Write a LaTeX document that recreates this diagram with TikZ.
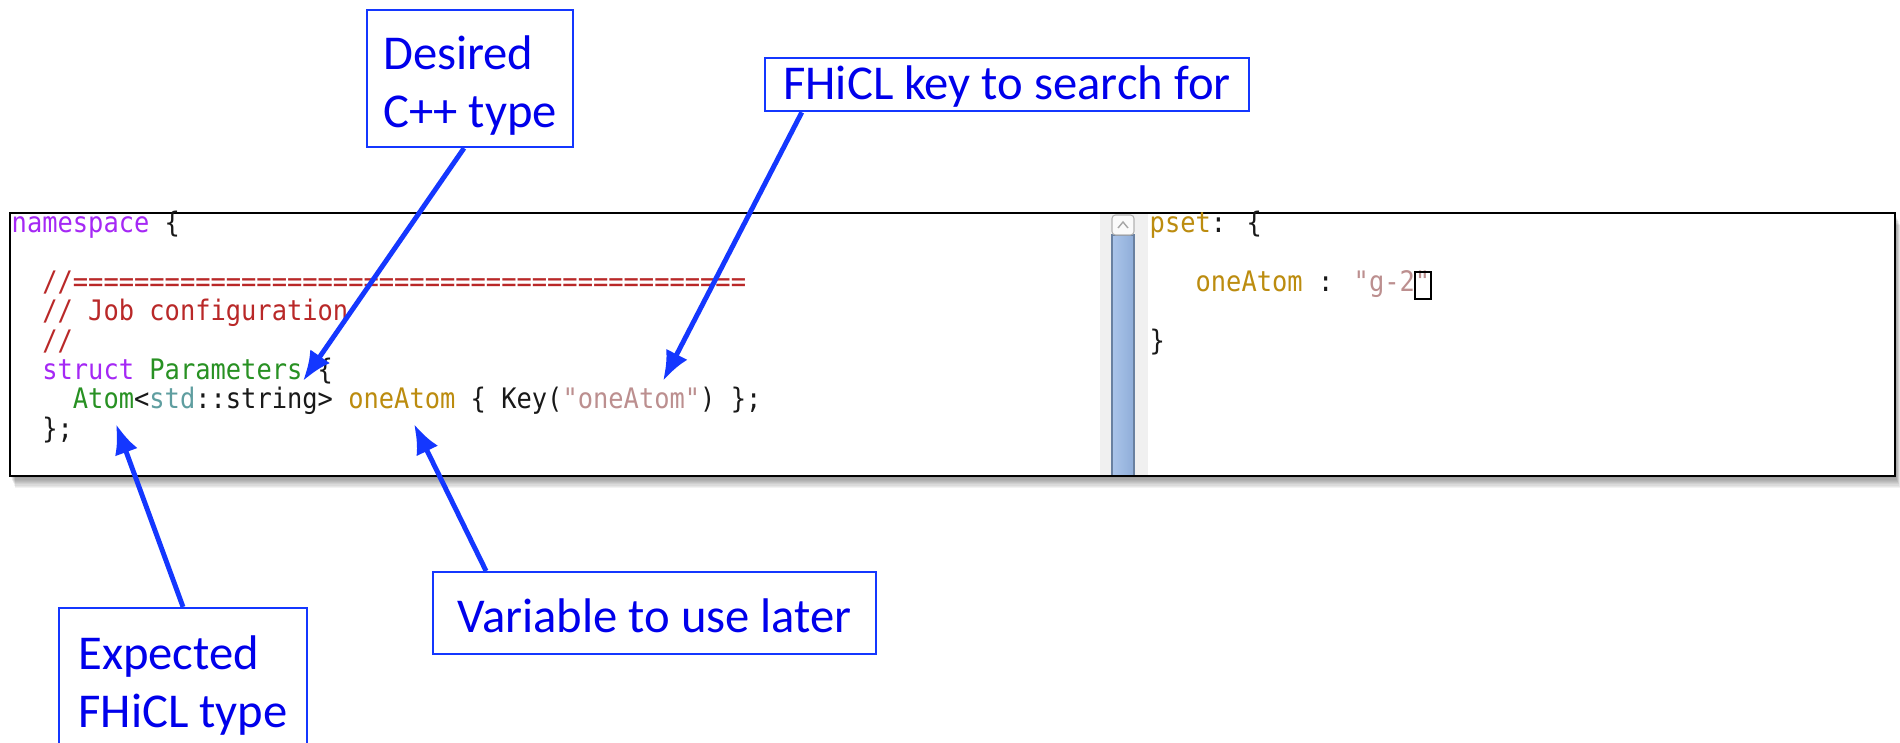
\documentclass[tikz,border=0pt]{standalone}
\usepackage{fontspec}
\setmainfont{Carlito}
\newfontfamily\codefont[FakeStretch=0.9]{DejaVu Sans Mono}
\usepackage{tikz}
\usetikzlibrary{arrows.meta}

\definecolor{kwPurple}{RGB}{165,40,245}
\definecolor{cmtRed}{RGB}{185,40,40}
\definecolor{typeGreen}{RGB}{40,145,35}
\definecolor{stdTeal}{RGB}{95,158,160}
\definecolor{idGold}{RGB}{188,140,15}
\definecolor{strRose}{RGB}{188,143,143}
\definecolor{codeBlack}{RGB}{25,25,25}
\definecolor{callText}{RGB}{0,0,235}
\definecolor{callLine}{RGB}{20,55,255}
\definecolor{barBlue}{RGB}{150,182,228}

\begin{document}
\begin{tikzpicture}[x=0.01cm, y=-0.01cm,
    codeLine/.style={
        anchor=base west,
        inner sep=0pt,
        text=codeBlack,
        font=\codefont\fontsize{8.03}{9.6}\selectfont
    },
    callBox/.style={
        draw=callLine,
        fill=white,
        line width=0.6pt,
        text=callText,
        font=\fontsize{13.83}{16.5}\selectfont,
        align=left,
        inner xsep=4pt,
        inner ysep=1pt
    },
    callArrow/.style={
        callLine,
        line width=1.4pt,
        -{Latex[length=8.5pt,width=6.8pt]}
    }
]
\useasboundingbox (0,0) rectangle (1900,743);
\clip (0,0) rectangle (1900,743);

% shadow of the editor window
\foreach \s in {1,...,10}
    \fill[black, opacity=0.05]
    (10+\s*0.5,213+\s*1.2) rectangle (1895+\s*0.5,476+\s*1.2);

% editor window
\fill[white] (10,213) rectangle (1895,476);
\fill[gray!12] (1100,213) rectangle (1148,476);
\shade[left color=barBlue!80!white, right color=barBlue!95!black]
(1112,235) rectangle (1134,476);
\draw[barBlue!70!black, line width=0.3pt] (1112,235) rectangle (1134,476);
\draw[gray!60, fill=gray!4, rounded corners=1pt, line width=0.3pt]
(1112,215) rectangle (1134,235);
\draw[gray!70, line width=0.4pt] (1118,228) -- (1123,222) -- (1128,228);
\draw[black, line width=0.6pt] (10,213) rectangle (1895,476);

% C++ side
\node[codeLine] (nsLine) at (11,233)
{\textcolor{kwPurple}{namespace} \{};
\node[codeLine] (ruleLine) at (41.6,291.6)
{\textcolor{cmtRed}{//============================================}};
\node[codeLine] (jobLine) at (41.6,320.9)
{\textcolor{cmtRed}{// Job configuration}};
\node[codeLine] (slashLine) at (41.6,350.2)
{\textcolor{cmtRed}{//}};
\node[codeLine] (structLine) at (41.6,379.5)
{\textcolor{kwPurple}{struct} \textcolor{typeGreen}{Parameters} \{};
\node[codeLine] (atomLine) at (72.2,408.8)
{\textcolor{typeGreen}{Atom}<\textcolor{stdTeal}{std}::string> \textcolor{idGold}{oneAtom} \{ Key(\textcolor{strRose}{"oneAtom"}) \};};
\node[codeLine] (endLine) at (41.6,438.1)
{\};};

% FHiCL side
\node[codeLine] (psetLine) at (1149,233)
{\textcolor{idGold}{pset}: \{};
\node[codeLine] (keyLine) at (1194.9,291.6)
{\textcolor{idGold}{oneAtom} : \textcolor{strRose}{"g-2"}};
\node[codeLine] (closeLine) at (1149,350.2)
{\}};
\draw[black, line width=0.6pt]
([xshift=-4.45pt,yshift=-2.1pt]keyLine.base east)
rectangle ([xshift=0.1pt,yshift=5.6pt]keyLine.base east);

% callouts
\node[callBox, minimum width=58.6pt, minimum height=39pt]
(cppType) at (470,78.5) {\rule{0pt}{13.6pt}Desired\\C++ type};
\node[callBox, minimum width=137.7pt, minimum height=15.1pt]
(fclKey) at (1007,84.5) {\rule{0pt}{11pt}FHiCL key to search for};
\node[callBox, minimum width=126pt, minimum height=23.3pt]
(laterVar) at (654.5,613) {\rule{0pt}{11pt}Variable to use later};
\node[callBox, minimum width=70.6pt, minimum height=42.4pt]
(fclType) at (183,682.5) {\rule{0pt}{11.6pt}Expected\\FHiCL type};

\coordinate (tipType) at (303,381);
\coordinate (tipKey) at (663,381);
\coordinate (tipAtom) at (116,424);
\coordinate (tipVar) at (414,424);

\draw[callArrow] ([xshift=-1.7pt]cppType.south) -- (tipType);
\draw[callArrow] ([xshift=10.8pt]fclKey.south west) -- (tipKey);
\draw[callArrow] (fclType.north) -- (tipAtom);
\draw[callArrow] ([xshift=15.4pt]laterVar.north west) -- (tipVar);
\end{tikzpicture}
\end{document}
